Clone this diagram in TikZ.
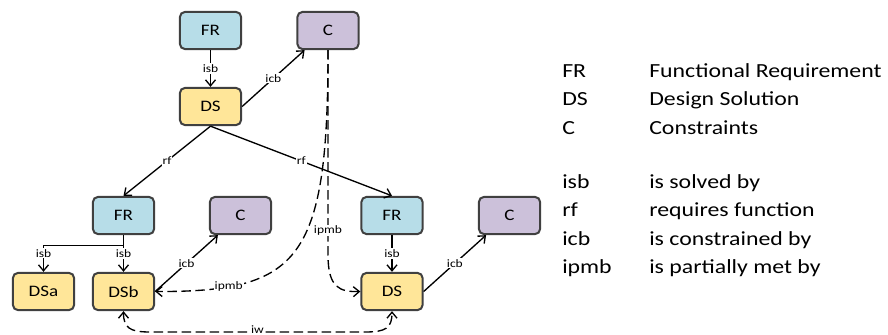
\documentclass[tikz,border=0pt]{standalone}
\usepackage{fontspec}
\setmainfont{Carlito}[FakeStretch=1.19]
\usetikzlibrary{arrows.meta}
\definecolor{frfill}{HTML}{B7DDE8}
\definecolor{cfill}{HTML}{CCC1DA}
\definecolor{dsfill}{HTML}{FFE699}
\definecolor{boxline}{HTML}{404040}
\begin{document}
\begin{tikzpicture}[x=0.75pt,y=-0.75pt,
  box/.style={draw=boxline, line width=1.5pt, rounded corners=4pt, minimum width=46pt, minimum height=28pt, inner sep=0pt, font=\fontsize{12}{14}\selectfont},
  frbox/.style={box, fill=frfill},
  cbox/.style={box, fill=cfill},
  dsbox/.style={box, fill=dsfill},
  conn/.style={line width=1pt, -{Straight Barb[length=4.5pt,width=7.5pt]}},
  dconn/.style={conn, dash pattern=on 7pt off 3.5pt},
  lbl/.style={fill=white, inner sep=0.8pt, font=\fontsize{8.5}{9}\selectfont},
  legend/.style={anchor=base west, inner sep=0pt, font=\fontsize{15}{18}\selectfont}]
\useasboundingbox (0,0) rectangle (888,335);

% boxes
\node[frbox] (fr1) at (210.5,30.5) {FR};
\node[cbox]  (c1)  at (328,30.5)   {C};
\node[dsbox] (ds1) at (210.5,106.5) {DS};
\node[frbox] (fr2) at (123.5,215.5) {FR};
\node[cbox]  (c2)  at (240.5,215.5) {C};
\node[frbox] (fr3) at (392,215.5)  {FR};
\node[cbox]  (c3)  at (509.5,215.5) {C};
\node[dsbox] (dsa) at (43.5,291.5) {DSa};
\node[dsbox] (dsb) at (123.5,291.5) {DSb};
\node[dsbox] (ds3) at (392,291.5)  {DS};

% solid connectors
\draw[conn] (fr1) -- node[lbl]{isb} (ds1);
\draw[conn] (ds1.east) -- node[lbl]{icb} (c1.-140);
\draw[conn] (ds1.south) -- node[lbl]{rf} (fr2.north);
\draw[conn] (ds1.south) -- node[lbl]{rf} (fr3.north);
\draw[conn] (fr2.south) -- ++(0,10) -| node[lbl,pos=0.65]{isb} (dsa.north);
\draw[conn] (fr2.south) -- node[lbl]{isb} (dsb.north);
\draw[conn] (dsb.east) -- node[lbl]{icb} (c2.-139);
\draw[conn] (fr3) -- node[lbl]{isb} (ds3);
\draw[conn] (ds3.east) -- node[lbl]{icb} (c3.-140);

% dashed connectors
\coordinate (bend) at (328,255);
\draw[dconn] (c1.south) .. controls (328,260) and (300,292) .. node[lbl,pos=0.8]{ipmb} (dsb.east);
\draw[dconn] (c1.south) -- node[lbl,pos=0.88]{ipmb} (bend) .. controls (328,288) and (340,292) .. (ds3.west);
\coordinate (iwl) at (150,332);
\coordinate (iwr) at (365,332);
\draw[dconn, {Straight Barb[length=4.5pt,width=7.5pt]}-{Straight Barb[length=4.5pt,width=7.5pt]}]
  (dsb.south) .. controls (123.5,328) and (130,332) .. (iwl)
  -- node[lbl,yshift=2pt]{iw} (iwr)
  .. controls (386,332) and (392,328) .. (ds3.south);

% legend
\node[legend] (l1a) at (562,77.3)  {FR};
\node[legend] (l1b) at (649,77.3)  {Functional Requirement};
\node[legend] (l2a) at (562,105.7) {DS};
\node[legend] (l2b) at (649,105.7) {Design Solution};
\node[legend] (l3a) at (562,134.1) {C};
\node[legend] (l3b) at (649,134.1) {Constraints};
\node[legend] (l4a) at (562,188.3) {isb};
\node[legend] (l4b) at (649,188.3) {is solved by};
\node[legend] (l5a) at (562,216.7) {rf};
\node[legend] (l5b) at (649,216.7) {requires function};
\node[legend] (l6a) at (562,245.1) {icb};
\node[legend] (l6b) at (649,245.1) {is constrained by};
\node[legend] (l7a) at (562,273.5) {ipmb};
\node[legend] (l7b) at (649,273.5) {is partially met by};
\end{tikzpicture}
\end{document}
